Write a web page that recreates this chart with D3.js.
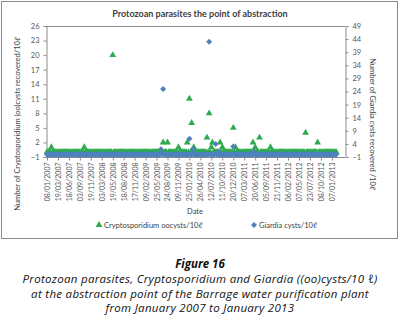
<!DOCTYPE html>
<html>
<head>
<meta charset="utf-8">
<script src="https://cdn.jsdelivr.net/npm/d3@7"></script>
<style>
  body { margin: 0; background: #fff; }
  svg { display: block; }
  .tick text { fill: #595959; }
</style>
</head>
<body>
<div id="chart"></div>
<script>
var width = 401, height = 322;
var margin = {top: 26, right: 56, bottom: 165, left: 46};

// x tick labels, one every 10 weekly samples
var dateLabels = ['08/01/2007', '19/03/2007', '18/06/2007', '03/09/2007', '19/11/2007', '03/03/2008',
  '19/05/2008', '18/08/2008', '17/11/2008', '09/02/2009', '25/05/2009', '24/08/2009', '09/11/2009',
  '25/01/2010', '26/04/2010', '12/07/2010', '11/10/2010', '20/12/2010', '07/03/2011', '20/06/2011',
  '05/09/2011', '21/11/2011', '06/02/2012', '07/05/2012', '23/07/2012', '08/10/2012', '07/01/2013'];

// Cryptosporidium oocysts/10l, one value per sample (rows of 20)
var cryptoValues = [
  0, 0, 0, 0, 1, 0, 0, 0, 0, 0, 0, 0, 0, 0, 0, 0, 0, 0, 0, 0,
  0, 0, 0, 0, 0, 0, 0, 0, 0, 0, 0, 0, 0, 0, 1, 0, 0, 0, 0, 0,
  0, 0, 0, 0, 0, 0, 0, 0, 0, 0, 0, 0, 0, 0, 0, 0, 0, 0, 0, 0,
  20, 0, 0, 0, 0, 0, 0, 0, 0, 0, 0, 0, 0, 0, 0, 0, 0, 0, 0, 0,
  0, 0, 0, 0, 0, 0, 0, 0, 0, 0, 0, 0, 0, 0, 0, 0, 0, 0, 0, 0,
  0, 0, 0, 0, 0, 0, 2, 0, 0, 0, 2, 0, 0, 0, 0, 0, 0, 0, 0, 0,
  1, 0, 0, 0, 0, 0, 0, 0, 2, 0, 11, 0, 6, 0, 1, 0, 0, 0, 0, 0,
  0, 0, 0, 0, 0, 0, 3, 0, 8, 0, 1, 2, 0, 0, 0, 0, 0, 0, 2, 0,
  1, 0, 0, 0, 0, 0, 0, 0, 0, 0, 5, 0, 1, 0, 0, 0, 0, 0, 0, 0,
  0, 0, 0, 0, 0, 0, 0, 0, 2, 0, 1, 0, 0, 0, 3, 0, 0, 0, 0, 0,
  0, 0, 0, 0, 1, 0, 0, 0, 0, 0, 0, 0, 0, 0, 0, 0, 0, 0, 0, 0,
  0, 0, 0, 0, 0, 0, 0, 0, 0, 0, 0, 0, 0, 0, 0, 0, 4, 0, 0, 0,
  0, 0, 0, 0, 0, 0, 0, 2, 0, 0, 0, 0, 0, 0, 0, 0, 0, 0, 0, 0,
  0, 0, 0, 0, 0
];

// Giardia cysts/10l
var giardiaValues = [
  0, 0, 0, 0, 0, 0, 0, 0, 0, 0, 0, 0, 0, 0, 0, 0, 0, 0, 0, 0,
  0, 0, 0, 0, 0, 0, 0, 0, 0, 0, 0, 0, 0, 0, 0, 0, 0, 0, 0, 0,
  0, 0, 0, 0, 0, 0, 0, 0, 0, 0, 0, 0, 0, 0, 0, 0, 0, 0, 0, 0,
  0, 0, 0, 0, 0, 0, 0, 0, 0, 0, 0, 0, 0, 0, 0, 0, 0, 0, 0, 0,
  0, 0, 0, 0, 0, 0, 0, 0, 0, 0, 0, 0, 0, 0, 0, 0, 0, 0, 0, 0,
  0, 0, 0, 0, 2, 0, 25, 0, 0, 0, 0, 0, 0, 0, 0, 0, 0, 0, 0, 0,
  0, 0, 0, 0, 0, 0, 0, 0, 0, 0, 6, 0, 0, 2, 0, 0, 0, 0, 0, 0,
  0, 0, 0, 0, 0, 0, 0, 0, 43, 0, 0, 0, 0, 0, 4, 0, 1, 0, 0, 0,
  0, 0, 0, 0, 0, 0, 0, 0, 0, 0, 3, 0, 0, 0, 0, 0, 0, 0, 0, 0,
  0, 0, 0, 0, 0, 0, 0, 0, 0, 1, 0, 0, 0, 0, 0, 0, 0, 0, 0, 0,
  0, 0, 0, 0, 0, 0, 0, 0, 0, 0, 0, 0, 0, 0, 0, 0, 0, 0, 0, 0,
  0, 0, 0, 0, 0, 0, 0, 0, 0, 0, 0, 0, 0, 0, 0, 0, 0, 0, 0, 0,
  0, 0, 0, 0, 0, 0, 0, 0, 0, 0, 0, 0, 0, 0, 0, 0, 0, 0, 0, 0,
  0, 0, 0, 0, 0
];

var leftTicks = [-1, 2, 5, 8, 11, 14, 17, 20, 23, 26];
var rightTicks = [-1, 4, 9, 14, 19, 24, 29, 34, 39, 44, 49];

var captionLines = [
  'Protozoan parasites, Cryptosporidium and Giardia ((oo)cysts/10 \u2113)',
  'at the abstraction point of the Barrage water purification  plant',
  'from January 2007 to January 2013'
];

var font = 'Lato, "Open Sans", sans-serif';
var green = '#2eaa4f', blue = '#4f81bd';

var svg1 = d3.select('#chart')
  .append('svg')
  .attr('width', width)
  .attr('height', height)
  .style('font-family', font);

// Chart area frame
svg1.append('rect')
  .attr('x', 1.5)
  .attr('y', 1.5)
  .attr('width', 396)
  .attr('height', 237)
  .attr('fill', 'none')
  .attr('stroke', '#8c8c8c');

var plotBottom = height - margin.bottom; // 157
var plotRight = width - margin.right; // 345

// Scales
var xScale = d3.scaleLinear()
  .domain([0, 272])
  .range([47, plotRight]);

var yLeft = d3.scaleLinear()
  .domain([-1, 26])
  .range([plotBottom, margin.top]);

var yRight = d3.scaleLinear()
  .domain([-1, 49])
  .range([plotBottom, margin.top]);

// Top border of plot
svg1.append('line')
  .attr('x1', margin.left)
  .attr('x2', plotRight)
  .attr('y1', margin.top + 0.5)
  .attr('y2', margin.top + 0.5)
  .attr('stroke', '#8c8c8c');

// Left axis
svg1.append('g')
  .attr('transform', `translate(${margin.left + 0.5},0)`)
  .attr('class', 'y-axis')
  .call(d3.axisLeft(yLeft).tickValues(leftTicks).tickSize(3).tickPadding(4))
  .call(g => g.selectAll('path, line').attr('stroke', '#8c8c8c'))
  .selectAll('text')
  .style('font-size', '7.5px')
  .style('font-family', font);

// Right axis
svg1.append('g')
  .attr('transform', `translate(${plotRight + 0.5},0)`)
  .attr('class', 'y-axis-right')
  .call(d3.axisRight(yRight).tickValues(rightTicks).tickSize(3).tickPadding(4))
  .call(g => g.selectAll('path, line').attr('stroke', '#8c8c8c'))
  .selectAll('text')
  .style('font-size', '7.5px')
  .style('font-family', font);

// X axis with date labels every 10 samples
var xAxis = d3.axisBottom(xScale)
  .tickValues(dateLabels.map((d, i) => i * 10))
  .tickFormat((d) => dateLabels[d / 10])
  .tickSize(3)
  .tickSizeOuter(0);

svg1.append('g')
  .attr('transform', `translate(0,${plotBottom + 0.5})`)
  .attr('class', 'x-axis')
  .call(xAxis)
  .call(g => g.select('.domain').attr('d', `M${margin.left},0H${plotRight}`))
  .call(g => g.selectAll('path, line').attr('stroke', '#8c8c8c'))
  .selectAll('.tick text')
  .attr('transform', 'rotate(-90)')
  .attr('x', -5)
  .attr('y', 0)
  .attr('dy', '0.35em')
  .style('text-anchor', 'end')
  .style('font-size', '7px')
  .style('font-family', font);

// Markers
var triangle = d3.symbol().type(d3.symbolTriangle).size(20);
var diamond = d3.symbol().type(d3.symbolSquare).size(18);

svg1.append('g')
  .attr('class', 'dots crypto')
  .selectAll('path')
  .data(cryptoValues)
  .enter()
  .append('path')
  .attr('d', triangle)
  .attr('transform', (d, i) => `translate(${xScale(i)},${yLeft(d)})`)
  .style('fill', green);

svg1.append('g')
  .attr('class', 'dots giardia')
  .selectAll('path')
  .data(giardiaValues)
  .enter()
  .append('path')
  .attr('d', diamond)
  .attr('transform', (d, i) => `translate(${xScale(i)},${yRight(d)}) rotate(45)`)
  .style('fill', blue);

// Title
svg1.append('text')
  .attr('x', 200)
  .attr('y', 17)
  .attr('text-anchor', 'middle')
  .style('font-size', '9px')
  .style('font-weight', 'bold')
  .style('fill', '#404040')
  .text('Protozoan parasites the point of abstraction');

// Axis titles
svg1.append('text')
  .attr('transform', 'translate(20,124) rotate(-90)')
  .attr('text-anchor', 'middle')
  .style('font-size', '7.5px')
  .style('fill', '#404040')
  .text('Number of Cryptosporidium (oo)cysts recovered/10\u2113');

svg1.append('text')
  .attr('transform', 'translate(370,124) rotate(90)')
  .attr('text-anchor', 'middle')
  .style('font-size', '7.5px')
  .style('fill', '#404040')
  .text('Number of Giardia cysts recovered /10\u2113');

svg1.append('text')
  .attr('x', 195)
  .attr('y', 214)
  .attr('text-anchor', 'middle')
  .style('font-size', '7.5px')
  .style('fill', '#404040')
  .text('Date');

// Legend
var legend = svg1.append('g').attr('class', 'legend');

legend.append('path')
  .attr('d', triangle)
  .attr('transform', 'translate(99,225)')
  .style('fill', green);

legend.append('text')
  .attr('x', 104)
  .attr('y', 228)
  .style('font-size', '7.5px')
  .style('fill', '#404040')
  .text('Cryptosporidium oocysts/10\u2113');

legend.append('path')
  .attr('d', diamond)
  .attr('transform', 'translate(254,225) rotate(45)')
  .style('fill', blue);

legend.append('text')
  .attr('x', 259)
  .attr('y', 228)
  .style('font-size', '7.5px')
  .style('fill', '#404040')
  .text('Giardia cysts/10\u2113');

// Figure caption
svg1.append('text')
  .attr('x', 200)
  .attr('y', 268)
  .attr('text-anchor', 'middle')
  .style('font-family', '"Open Sans", sans-serif')
  .style('font-size', '11.5px')
  .style('font-weight', 'bold')
  .style('font-style', 'italic')
  .style('fill', '#111')
  .text('Figure 16');

svg1.selectAll('.caption')
  .data(captionLines)
  .enter()
  .append('text')
  .attr('class', 'caption')
  .attr('x', 200)
  .attr('y', (d, i) => 283 + i * 14.5)
  .attr('text-anchor', 'middle')
  .style('font-family', '"Open Sans", sans-serif')
  .style('font-size', '11.5px')
  .style('letter-spacing', '0.3px')
  .style('font-style', 'italic')
  .style('fill', '#111')
  .text(d => d);
</script>
</body>
</html>
